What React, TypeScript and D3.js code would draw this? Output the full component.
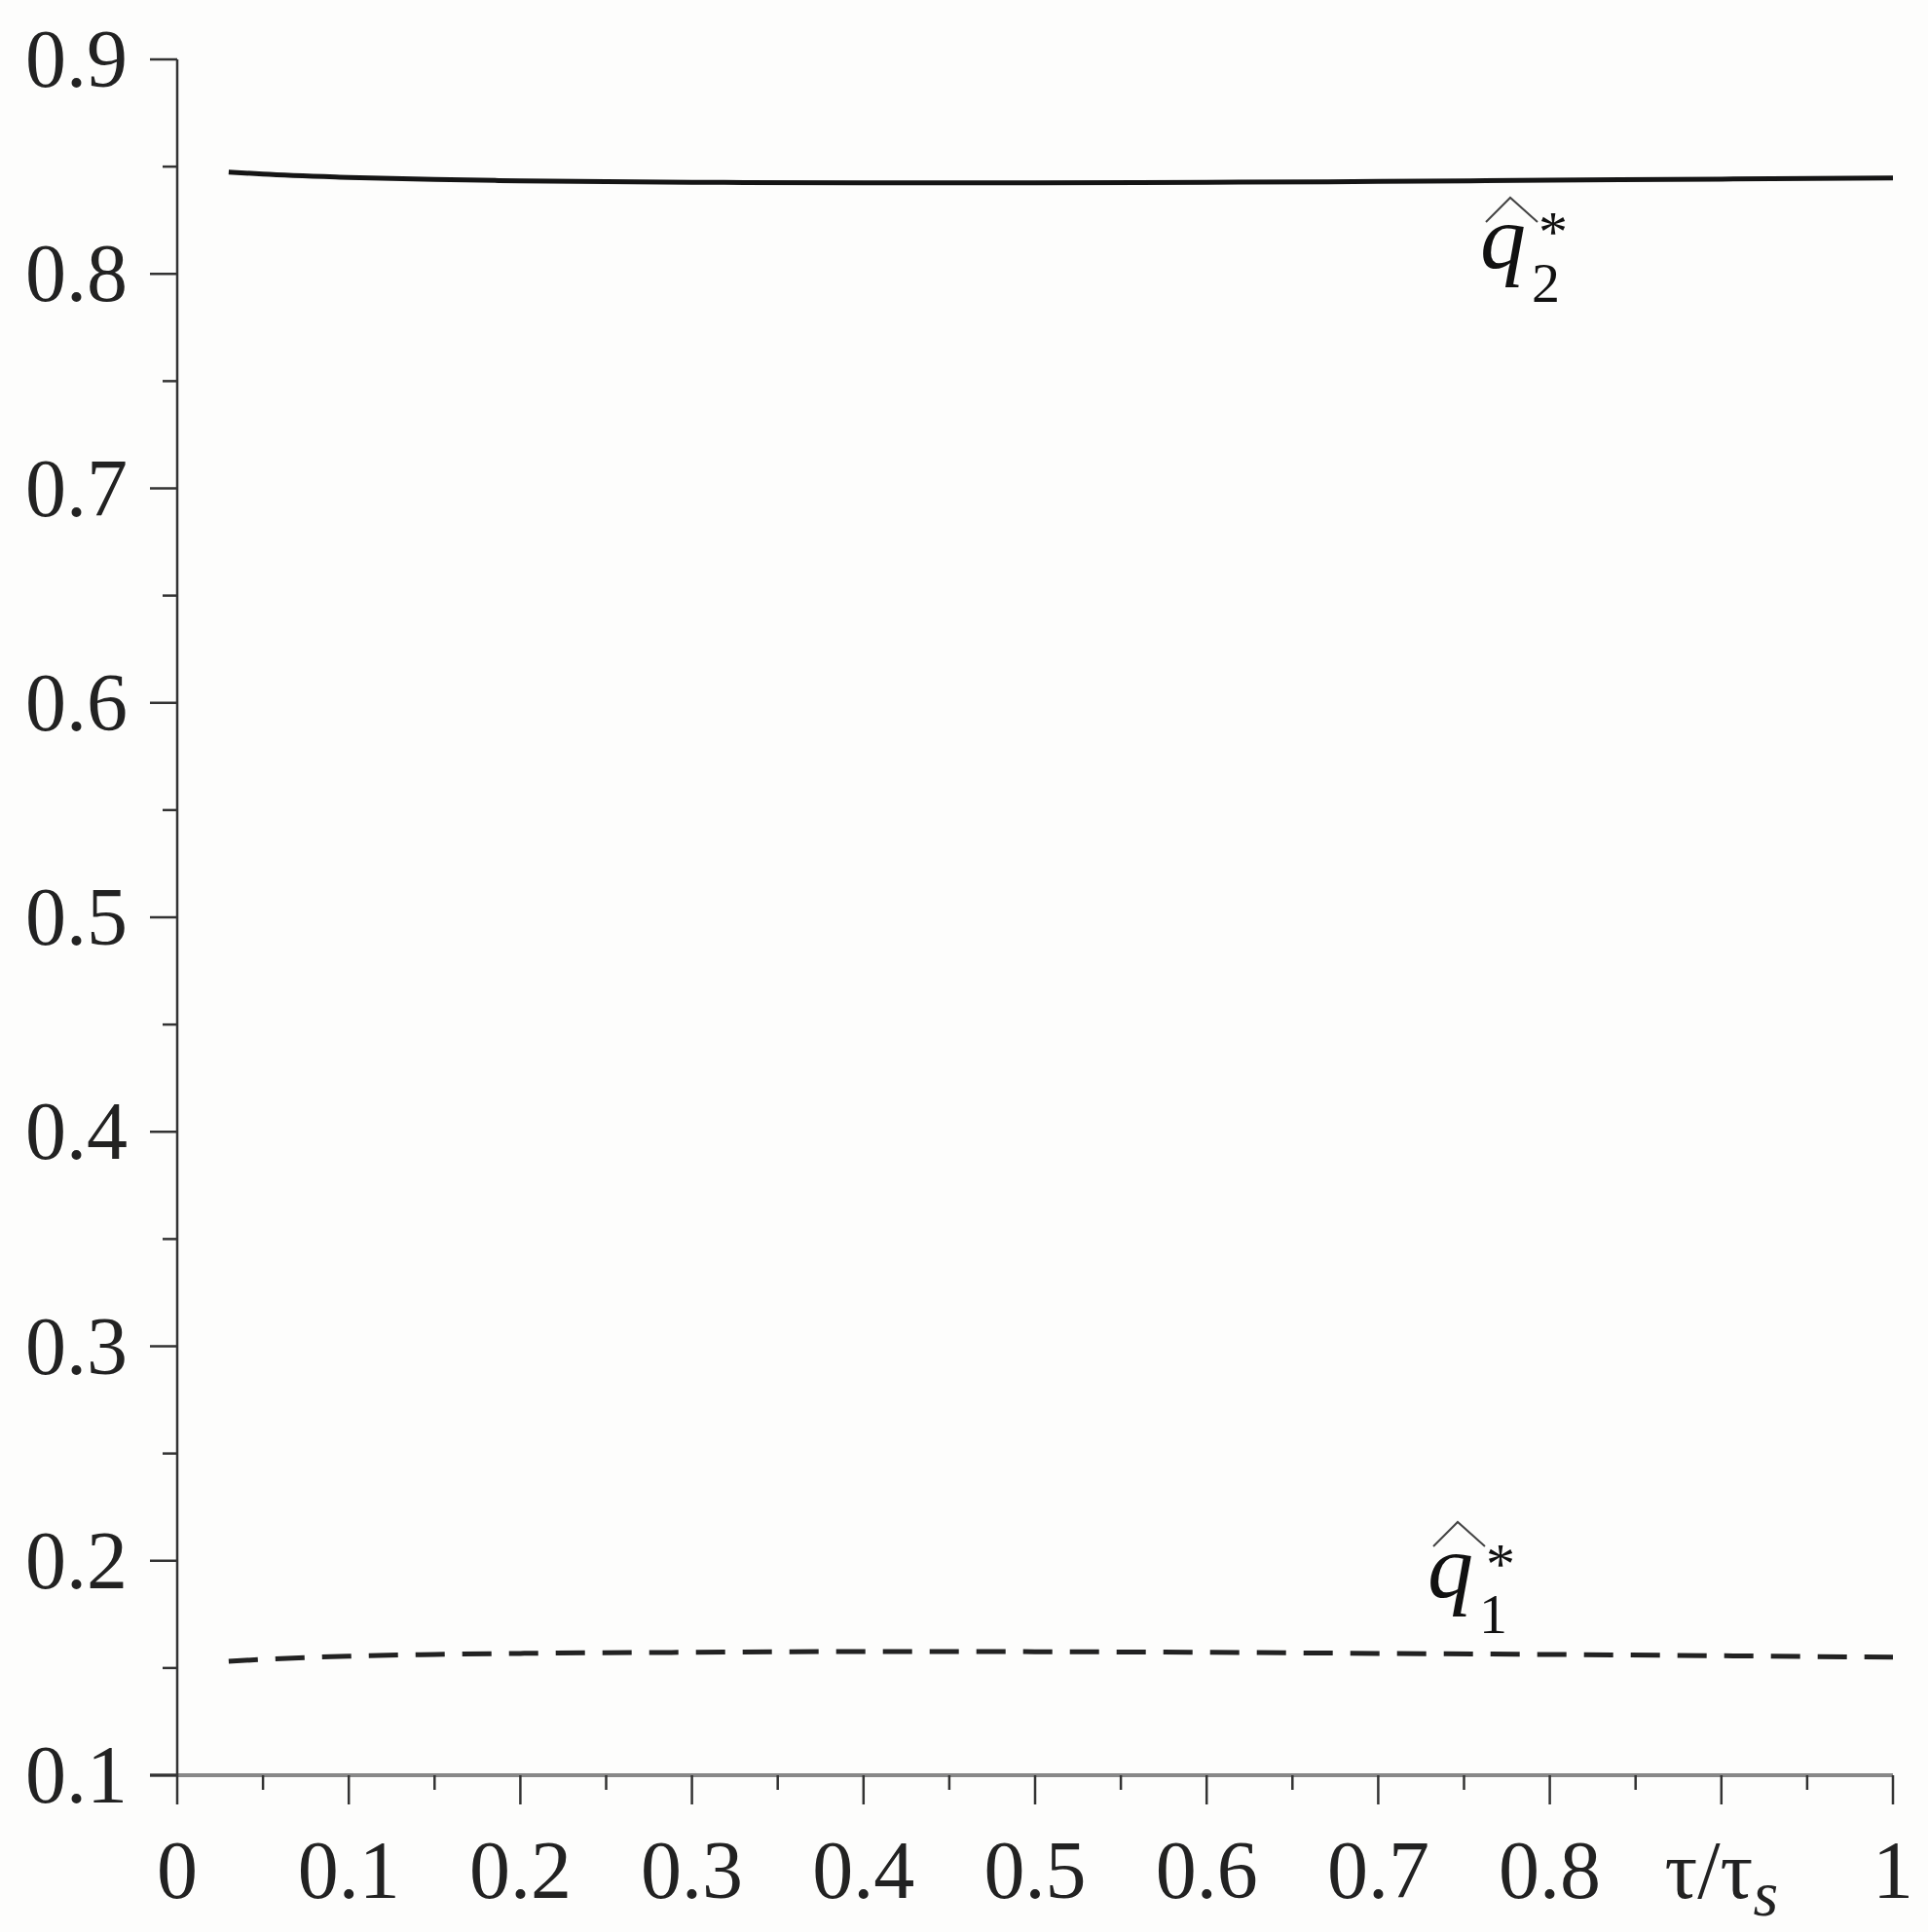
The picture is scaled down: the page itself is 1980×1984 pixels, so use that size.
import React from "react";
import * as d3 from "d3";

const tau: number[] = [0.03, 0.05, 0.1, 0.15, 0.2, 0.3, 0.4, 0.5, 0.6, 0.7, 0.8, 0.9, 1.0];
const q2Values: number[] = [0.8475, 0.8465, 0.845, 0.844, 0.8434, 0.8427, 0.8425, 0.8425, 0.8427, 0.8431, 0.8437, 0.8442, 0.8447];
const q1Values: number[] = [0.1531, 0.154, 0.1555, 0.1563, 0.1568, 0.1573, 0.1577, 0.1576, 0.1573, 0.1568, 0.1563, 0.1557, 0.155];

const yMajor: number[] = [0.1, 0.2, 0.3, 0.4, 0.5, 0.6, 0.7, 0.8, 0.9];
const yMinor: number[] = [0.15, 0.25, 0.35, 0.45, 0.55, 0.65, 0.75, 0.85];
const yLabels: string[] = ["0.1", "0.2", "0.3", "0.4", "0.5", "0.6", "0.7", "0.8", "0.9"];
const xMajor: number[] = [0, 0.1, 0.2, 0.3, 0.4, 0.5, 0.6, 0.7, 0.8, 0.9, 1];
const xMinor: number[] = [0.05, 0.15, 0.25, 0.35, 0.45, 0.55, 0.65, 0.75, 0.85, 0.95];
const xLabels: string[] = ["0", "0.1", "0.2", "0.3", "0.4", "0.5", "0.6", "0.7", "0.8", "", "1"];

const W = 1980;
const H = 1984;
const serif = '"Liberation Serif", Tinos, "Times New Roman", Times, "Nimbus Roman", FreeSerif, serif';

export default function App() {
  const x = d3.scaleLinear().domain([0, 1]).range([182, 1944]);
  const y = d3.scaleLinear().domain([0.1, 0.9]).range([1823, 61]);
  const line = d3
    .line<number>()
    .x((_, i) => x(tau[i]))
    .y((d) => y(d))
    .curve(d3.curveMonotoneX);

  const axisColor = "#333";

  const qLabel = (
    left: number,
    hatTop: number,
    qBase: number,
    subBase: number,
    starBase: number,
    sub: string
  ) => (
    <g>
      <path
        d={`M${left + 2},${hatTop + 25} L${left + 27},${hatTop} L${left + 55},${hatTop + 25}`}
        fill="none"
        stroke="#444"
        strokeWidth={2}
      />
      <text x={left - 4} y={qBase} style={{ fontFamily: serif }} fill="#111">
        <tspan fontStyle="italic" fontSize={94}>q</tspan>
        <tspan x={left + 49} y={subBase} fontSize={58}>{sub}</tspan>
        <tspan x={left + 56} y={starBase} fontSize={60}>*</tspan>
      </text>
    </g>
  );

  return (
    <svg
      width={W}
      height={H}
      viewBox={`0 0 ${W} ${H}`}
      style={{ position: "absolute", left: 0, top: 0, background: "#fdfdfc" }}
    >
      <rect x={0} y={0} width={W} height={H} fill="#fdfdfc" />

      {/* x axis line */}
      <line x1={154} x2={x(1)} y1={y(0.1)} y2={y(0.1)} stroke="#888" strokeWidth={4} />
      {/* y axis line */}
      <line x1={x(0)} x2={x(0)} y1={y(0.9)} y2={y(0.1)} stroke={axisColor} strokeWidth={2.5} />

      {yMajor.map((v) => (
        <line key={"ym" + v} x1={x(0) - 28} x2={x(0)} y1={y(v)} y2={y(v)} stroke={axisColor} strokeWidth={2.5} />
      ))}
      {yMinor.map((v) => (
        <line key={"yn" + v} x1={x(0) - 15} x2={x(0)} y1={y(v)} y2={y(v)} stroke={axisColor} strokeWidth={2.5} />
      ))}
      {yMajor.map((v, i) => (
        <text key={"yl" + v} x={131} y={y(v) + 28} textAnchor="end" style={{ fontFamily: serif }} fontSize={84} fill="#222">
          {yLabels[i]}
        </text>
      ))}

      {xMajor.map((v) => (
        <line key={"xm" + v} x1={x(v)} x2={x(v)} y1={y(0.1)} y2={y(0.1) + 30} stroke={axisColor} strokeWidth={2.5} />
      ))}
      {xMinor.map((v) => (
        <line key={"xn" + v} x1={x(v)} x2={x(v)} y1={y(0.1)} y2={y(0.1) + 15} stroke={axisColor} strokeWidth={2.5} />
      ))}
      {xMajor.map((v, i) => (
        <text key={"xl" + v} x={x(v)} y={1949} textAnchor="middle" style={{ fontFamily: serif }} fontSize={84} fill="#222">
          {xLabels[i]}
        </text>
      ))}
      <text x={x(0.9)} y={1949} textAnchor="middle" style={{ fontFamily: serif }} fontSize={84} fill="#222">
        τ/τ
        <tspan fontStyle="italic" fontSize={66} dy={18}>
          s
        </tspan>
      </text>

      <path d={line(q2Values) || ""} fill="none" stroke="#151515" strokeWidth={5} />
      <path
        d={line(q1Values) || ""}
        fill="none"
        stroke="#222"
        strokeWidth={5}
        strokeDasharray="30 18"
      />

      {qLabel(1524, 203, 275, 310, 258, "2")}
      {qLabel(1470, 1563, 1640, 1677, 1626, "1")}
    </svg>
  );
}
